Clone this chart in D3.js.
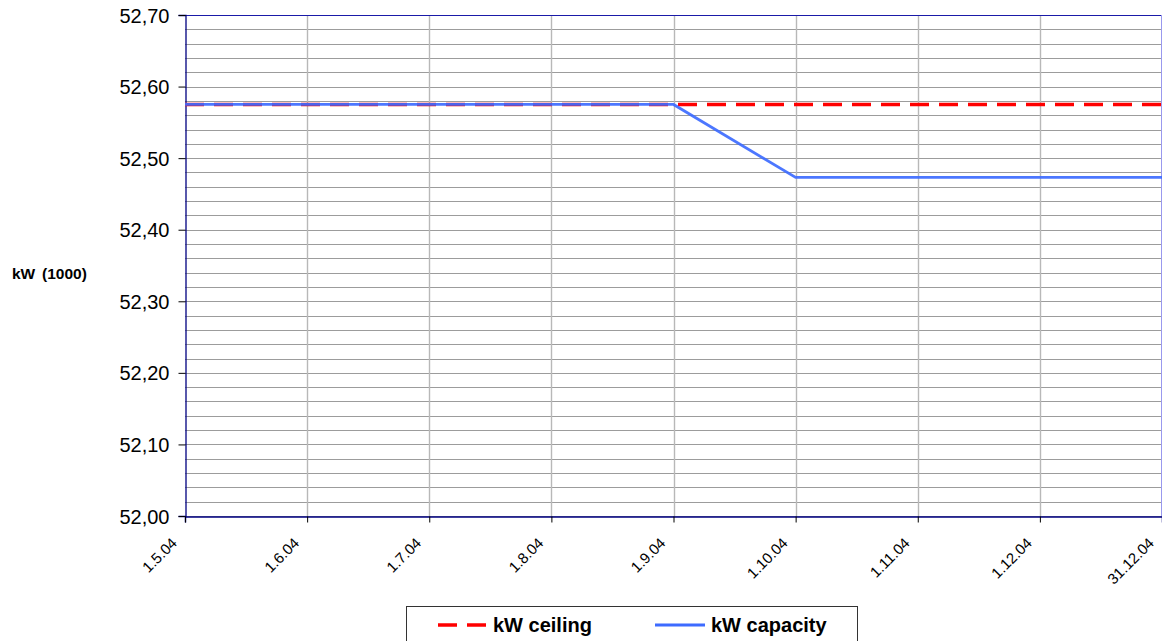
<!DOCTYPE html>
<html><head><meta charset="utf-8">
<script src="https://cdn.jsdelivr.net/npm/d3@7"></script>
<style>body{margin:0;background:#fff}svg{display:block;font-family:Arial,"Liberation Sans",sans-serif}</style>
</head><body><svg id="c" width="1162" height="641"></svg>
<script>
const categories = ["1.5.04","1.6.04","1.7.04","1.8.04","1.9.04","1.10.04","1.11.04","1.12.04","31.12.04"];
const ceiling = [52.575,52.575,52.575,52.575,52.575,52.575,52.575,52.575,52.575];
const capacity = [52.575,52.575,52.575,52.575,52.575,52.473,52.473,52.473,52.473];
const yTicks = [52.00,52.10,52.20,52.30,52.40,52.50,52.60,52.70];
const seriesNames = ["kW ceiling","kW capacity"];

const svg = d3.select("#c");
const L=185, R=1162, T=15, B=516;
const x = d3.scalePoint().domain(categories).range([L,R]);
const y = d3.scaleLinear().domain([52.0,52.7]).range([B,T]);

// minor horizontal gridlines
const minor = d3.range(0,36).map(i=>52.0+i*0.02);
svg.append("g").selectAll("line").data(minor).join("line")
  .attr("x1",L).attr("x2",R).attr("y1",d=>Math.round(y(d))+0.5).attr("y2",d=>Math.round(y(d))+0.5)
  .attr("stroke","#9c9c9c").attr("stroke-width",1);
// vertical gridlines
svg.append("g").selectAll("line").data(categories.slice(1,-1)).join("line")
  .attr("x1",d=>Math.round(x(d))+0.5).attr("x2",d=>Math.round(x(d))+0.5).attr("y1",T).attr("y2",B)
  .attr("stroke","#b8b8b8").attr("stroke-width",1.4);

// border top/right
svg.append("line").attr("x1",L).attr("x2",R).attr("y1",T+0.5).attr("y2",T+0.5).attr("stroke","#1a1aa8").attr("stroke-width",1.2);
svg.append("line").attr("x1",R-0.5).attr("x2",R-0.5).attr("y1",T).attr("y2",B).attr("stroke","#9999ee").attr("stroke-width",1);

// axes
const yAxis = d3.axisLeft(y).tickValues(yTicks).tickSize(7).tickPadding(9)
  .tickFormat(d=>d3.format(".2f")(d).replace(".",","));
const gy = svg.append("g").attr("transform",`translate(${L+0.5},0)`).call(yAxis);
gy.select(".domain").attr("stroke","#000080").attr("stroke-width",1.3);
gy.selectAll(".tick line").attr("stroke","#000");
gy.selectAll("text").attr("font-size","20px").attr("fill","#000").attr("dy","0.35em")
  .attr("font-family","Arial,'Liberation Sans',sans-serif");

const xAxis = d3.axisBottom(x).tickSize(6).tickFormat("");
const gx = svg.append("g").attr("transform",`translate(0,${B+0.5})`).call(xAxis);
gx.select(".domain").attr("stroke","#000080").attr("stroke-width",1.5);
gx.selectAll(".tick line").attr("stroke","#000");
svg.append("g").selectAll("text").data(categories).join("text")
  .attr("transform",d=>`translate(${x(d)-7},${B+28}) rotate(-45)`)
  .attr("text-anchor","end").attr("font-size","15px").attr("fill","#000").text(d=>d);

// lines
const line = d3.line().x((d,i)=>x(categories[i])).y(d=>y(d));
svg.append("path").datum(ceiling).attr("d",line).attr("fill","none")
  .attr("stroke","#ff0000").attr("stroke-width",3.4).attr("stroke-dasharray","19,10");
svg.append("path").datum(capacity).attr("d",line).attr("fill","none")
  .attr("stroke","#3d6bff").attr("stroke-width",2.8).attr("opacity",0.92);

// y title
const yt = svg.append("text").attr("y",279).attr("font-size","15.5px").attr("font-weight","bold");
yt.append("tspan").attr("x",12).text("kW");
yt.append("tspan").attr("x",42).text("(1000)");

// legend
svg.append("rect").attr("x",406.5).attr("y",606.5).attr("width",451).attr("height",40)
  .attr("fill","#fff").attr("stroke","#333").attr("stroke-width",1);
svg.append("line").attr("x1",438).attr("x2",486).attr("y1",625).attr("y2",625)
  .attr("stroke","#ff0000").attr("stroke-width",3.4).attr("stroke-dasharray","19,10");
svg.append("text").attr("x",493).attr("y",632).attr("font-size","20px").attr("font-weight","bold").text(seriesNames[0]);
svg.append("line").attr("x1",655).attr("x2",705).attr("y1",625).attr("y2",625)
  .attr("stroke","#3d6bff").attr("stroke-width",2.8);
svg.append("text").attr("x",711).attr("y",632).attr("font-size","20px").attr("font-weight","bold").text(seriesNames[1]);
</script></body></html>
